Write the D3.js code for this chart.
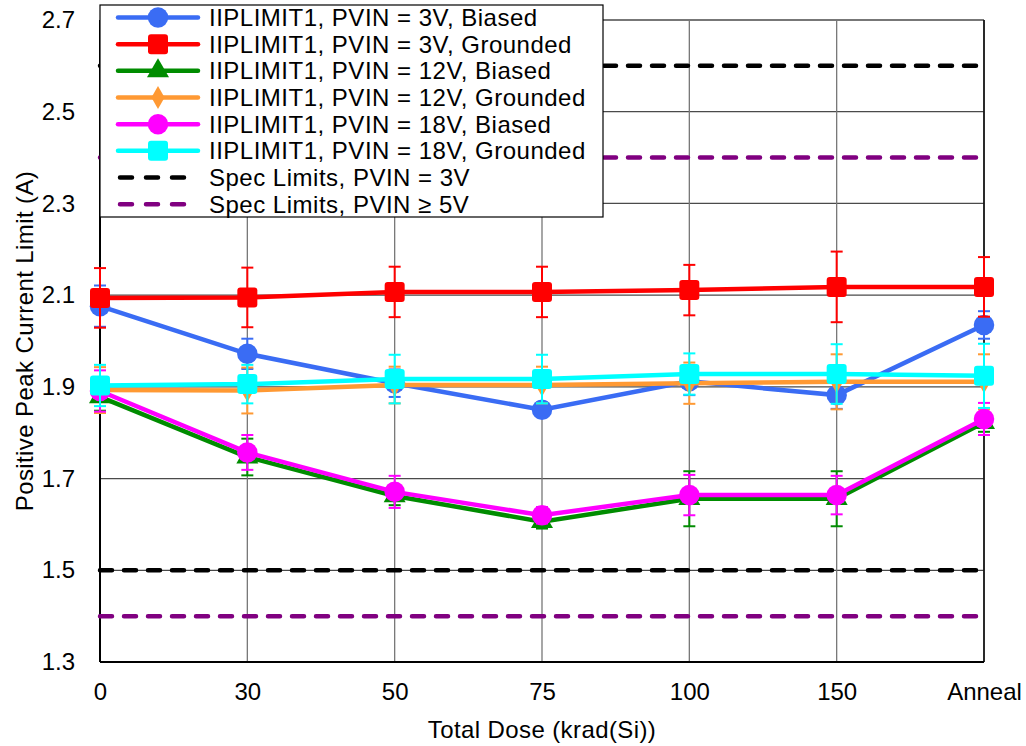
<!DOCTYPE html>
<html>
<head>
<meta charset="utf-8">
<script src="https://cdn.jsdelivr.net/npm/d3@7"></script>
<style>
  body { margin: 0; background: #fff; }
  text { font-family: "Liberation Sans", Arial, sans-serif; fill: #000; }
</style>
</head>
<body>
<div id="app"></div>
<script>
const categories = ['0', '30', '50', '75', '100', '150', 'Anneal'];
const yTicks = [1.3, 1.5, 1.7, 1.9, 2.1, 2.3, 2.5, 2.7];

const bias3 = [2.076, 1.972, 1.908, 1.850, 1.912, 1.882, 2.035];
const bias3Err = [0.045, 0.033, 0.03, 0.016, 0.03, 0.03, 0.03];
const gnd3 = [2.094, 2.095, 2.107, 2.107, 2.111, 2.118, 2.118];
const gnd3Err = [0.065, 0.065, 0.055, 0.055, 0.055, 0.077, 0.065];
const bias12 = [1.878, 1.747, 1.662, 1.606, 1.656, 1.656, 1.822];
const bias12Err = [0.03, 0.04, 0.02, 0.015, 0.06, 0.06, 0.02];
const gnd12 = [1.893, 1.892, 1.904, 1.904, 1.908, 1.911, 1.911];
const gnd12Err = [0.05, 0.05, 0.04, 0.04, 0.045, 0.06, 0.06];
const bias18 = [1.891, 1.757, 1.671, 1.620, 1.664, 1.664, 1.830];
const bias18Err = [0.045, 0.038, 0.035, 0.018, 0.044, 0.042, 0.035];
const gnd18 = [1.903, 1.906, 1.917, 1.917, 1.928, 1.928, 1.924];
const gnd18Err = [0.045, 0.042, 0.053, 0.053, 0.045, 0.065, 0.07];

const specLimits3V = [2.6, 1.5];
const specLimits5V = [2.4, 1.4];

const series = [
  { name: 'IIPLIMIT1, PVIN = 3V, Biased', values: bias3, err: bias3Err, color: '#3a6cf4', marker: 'circle' },
  { name: 'IIPLIMIT1, PVIN = 3V, Grounded', values: gnd3, err: gnd3Err, color: '#ff0000', marker: 'square' },
  { name: 'IIPLIMIT1, PVIN = 12V, Biased', values: bias12, err: bias12Err, color: '#008c00', marker: 'triangle' },
  { name: 'IIPLIMIT1, PVIN = 12V, Grounded', values: gnd12, err: gnd12Err, color: '#ff9933', marker: 'diamond' },
  { name: 'IIPLIMIT1, PVIN = 18V, Biased', values: bias18, err: bias18Err, color: '#ff00ff', marker: 'circle' },
  { name: 'IIPLIMIT1, PVIN = 18V, Grounded', values: gnd18, err: gnd18Err, color: '#00ffff', marker: 'square' }
];
const specs = [
  { name: 'Spec Limits, PVIN = 3V', values: specLimits3V, color: '#000000' },
  { name: 'Spec Limits, PVIN \u2265 5V', values: specLimits5V, color: '#800080' }
];

const width = 1026;
const height = 746;
const plot = { left: 100, right: 984, top: 20, bottom: 662 };
const fontSize = 24;

const svg = d3.select('#app').append('svg')
  .attr('width', width)
  .attr('height', height);

const x = d3.scalePoint().domain(categories).range([plot.left, plot.right]);
const y = d3.scaleLinear().domain([1.3, 2.7]).range([plot.bottom, plot.top]);

// gridlines
svg.append('g')
  .selectAll('line').data(yTicks)
  .join('line')
  .attr('x1', plot.left).attr('x2', plot.right)
  .attr('y1', d => y(d)).attr('y2', d => y(d))
  .attr('stroke', '#4a4a4a').attr('stroke-width', 1.3);

svg.append('g')
  .selectAll('line').data(categories)
  .join('line')
  .attr('x1', d => x(d)).attr('x2', d => x(d))
  .attr('y1', plot.top).attr('y2', plot.bottom)
  .attr('stroke', '#777').attr('stroke-width', 1.3);

// axes frame
svg.append('line').attr('x1', plot.left).attr('x2', plot.left).attr('y1', plot.top).attr('y2', plot.bottom)
  .attr('stroke', '#000').attr('stroke-width', 2);
svg.append('line').attr('x1', plot.right).attr('x2', plot.right).attr('y1', plot.top).attr('y2', plot.bottom)
  .attr('stroke', '#000').attr('stroke-width', 1.5);
svg.append('line').attr('x1', plot.left).attr('x2', plot.right).attr('y1', plot.bottom).attr('y2', plot.bottom)
  .attr('stroke', '#000').attr('stroke-width', 2);

// tick labels
const yAxis = d3.axisLeft(y).tickValues(yTicks).tickFormat(d3.format('.1f')).tickSize(0).tickPadding(25);
svg.append('g').attr('transform', `translate(${plot.left},0)`).call(yAxis)
  .call(g => g.select('.domain').remove())
  .selectAll('text').attr('font-size', fontSize).attr('font-family', '"Liberation Sans", Arial, sans-serif');

const xAxis = d3.axisBottom(x).tickSize(0).tickPadding(21);
svg.append('g').attr('transform', `translate(0,${plot.bottom})`).call(xAxis)
  .call(g => g.select('.domain').remove())
  .selectAll('text').attr('font-size', fontSize).attr('font-family', '"Liberation Sans", Arial, sans-serif');

svg.append('text')
  .attr('x', (plot.left + plot.right) / 2).attr('y', 738)
  .attr('text-anchor', 'middle').attr('font-size', fontSize)
  .attr('letter-spacing', 0.4)
  .text('Total Dose (krad(Si))');

svg.append('text')
  .attr('transform', `translate(33,${(plot.top + plot.bottom) / 2}) rotate(-90)`)
  .attr('text-anchor', 'middle').attr('font-size', fontSize)
  .attr('letter-spacing', 0.4)
  .text('Positive Peak Current Limit (A)');

// spec limits
specs.forEach(s => {
  svg.append('g').selectAll('line').data(s.values)
    .join('line')
    .attr('x1', plot.left).attr('x2', plot.right)
    .attr('y1', d => y(d)).attr('y2', d => y(d))
    .attr('stroke', s.color).attr('stroke-width', 4.5)
    .attr('stroke-dasharray', '12,12').attr('stroke-linecap', 'round');
});

const markerPath = (type) => {
  switch (type) {
    case 'circle': return d3.symbol(d3.symbolCircle, 330)();
    case 'triangle': return d3.symbol(d3.symbolTriangle, 210)();
    case 'diamond': return d3.symbol(d3.symbolDiamond, 150)();
  }
  return null;
};

const drawMarker = (g, type, color, cx, cy) => {
  if (type === 'square') {
    g.append('rect')
      .attr('x', cx - 10).attr('y', cy - 10)
      .attr('width', 20).attr('height', 20)
      .attr('rx', 3)
      .attr('fill', color);
  } else {
    g.append('path')
      .attr('d', markerPath(type))
      .attr('transform', `translate(${cx},${cy})`)
      .attr('fill', color);
  }
};

const line = d3.line().x((d, i) => x(categories[i])).y(d => y(d));

series.forEach(s => {
  const g = svg.append('g');

  // error bars
  s.values.forEach((v, i) => {
    const cx = x(categories[i]);
    g.append('line')
      .attr('x1', cx).attr('x2', cx)
      .attr('y1', y(v - s.err[i])).attr('y2', y(v + s.err[i]))
      .attr('stroke', s.color).attr('stroke-width', 2);
    [v - s.err[i], v + s.err[i]].forEach(e => {
      g.append('line')
        .attr('x1', cx - 6).attr('x2', cx + 6)
        .attr('y1', y(e)).attr('y2', y(e))
        .attr('stroke', s.color).attr('stroke-width', 2);
    });
  });

  g.append('path')
    .datum(s.values)
    .attr('d', line)
    .attr('fill', 'none')
    .attr('stroke', s.color)
    .attr('stroke-width', 4.5);

  s.values.forEach((v, i) => drawMarker(g, s.marker, s.color, x(categories[i]), y(v)));
});

// legend
const legend = svg.append('g');
legend.append('rect')
  .attr('x', 100).attr('y', 5)
  .attr('width', 503).attr('height', 212)
  .attr('fill', '#fff').attr('stroke', '#000').attr('stroke-width', 1.2);

const rowY = i => 17.5 + i * 26.67;

series.forEach((s, i) => {
  const ly = rowY(i);
  legend.append('line')
    .attr('x1', 118).attr('x2', 198).attr('y1', ly).attr('y2', ly)
    .attr('stroke', s.color).attr('stroke-width', 4.5).attr('stroke-linecap', 'round');
  drawMarker(legend, s.marker, s.color, 158, ly);
  legend.append('text')
    .attr('x', 209).attr('y', ly).attr('dy', '0.36em')
    .attr('font-size', fontSize).attr('letter-spacing', 0.5)
    .text(s.name);
});

specs.forEach((s, j) => {
  const ly = rowY(series.length + j);
  legend.append('line')
    .attr('x1', 120).attr('x2', 197).attr('y1', ly).attr('y2', ly)
    .attr('stroke', s.color).attr('stroke-width', 4.5)
    .attr('stroke-dasharray', '12,14').attr('stroke-linecap', 'round');
  legend.append('text')
    .attr('x', 209).attr('y', ly).attr('dy', '0.36em')
    .attr('font-size', fontSize).attr('letter-spacing', 0.5)
    .text(s.name);
});
</script>
</body>
</html>
